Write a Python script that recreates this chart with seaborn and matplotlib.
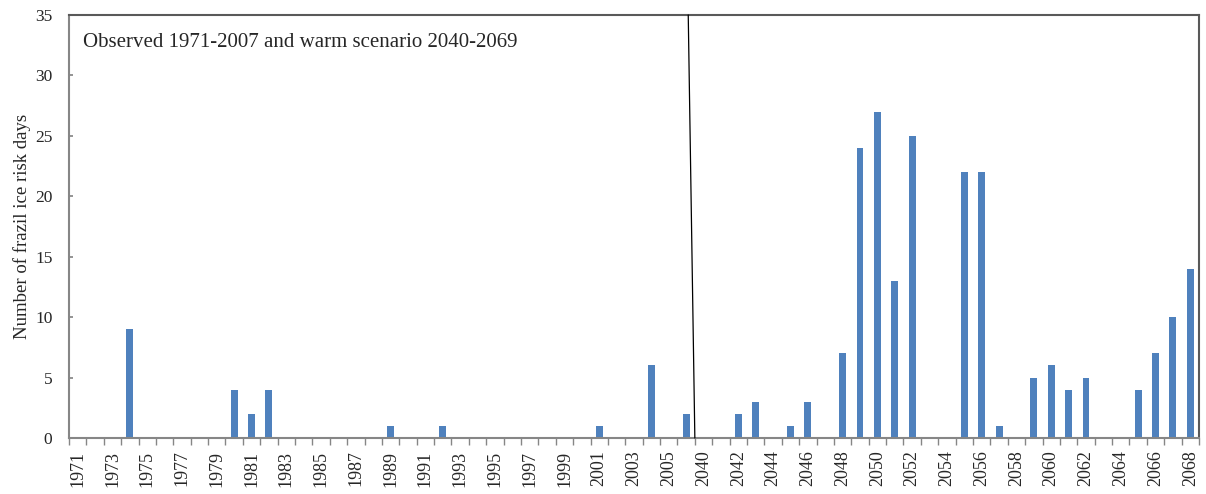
import numpy as np
import pandas as pd
import matplotlib
matplotlib.use("Agg")
import matplotlib.pyplot as plt
import seaborn as sns

# ---- data ----
obs_years = [str(y) for y in range(1971, 2007)]
warm_years = [str(y) for y in range(2040, 2069)]
obs_values = [0, 0, 0, 9, 0, 0, 0, 0, 0, 4,
              2, 4, 0, 0, 0, 0, 0, 0, 1, 0,
              0, 1, 0, 0, 0, 0, 0, 0, 0, 0,
              1, 0, 0, 6, 0, 2]
warm_values = [0, 0, 2, 3, 0, 1, 3, 0, 7, 24,
               27, 13, 25, 0, 0, 22, 22, 1, 0, 5,
               6, 4, 5, 0, 0, 4, 7, 10, 14]
title_text = "Observed 1971-2007 and warm scenario 2040-2069"
y_label = "Number of frazil ice risk days"

categories = obs_years + warm_years
values = obs_values + warm_values
df = pd.DataFrame({"year": categories, "days": values})

sns.set_theme(style="white")
plt.rcParams["font.family"] = ["Liberation Serif", "DejaVu Serif"]

fig = plt.figure(figsize=(12.06, 4.94), dpi=100)
ax = fig.add_axes([69 / 1206, 1 - 438 / 494, (1199 - 69) / 1206, (438 - 15) / 494])

sns.barplot(data=df, x="year", y="days", order=categories, color="#4F81BD",
            width=0.4, saturation=1, ax=ax, errorbar=None, linewidth=0)

n = len(categories)
ax.set_xlim(-0.5, n - 0.5)
ax.set_ylim(0, 35)
ax.set_yticks(range(0, 36, 5))
ax.tick_params(axis="y", direction="in", length=3, color="#868686",
               labelsize=12.5, pad=12, left=True)

ax.set_xticks(range(n))
ax.set_xticklabels([c if i % 2 == 0 else "" for i, c in enumerate(categories)],
                   rotation=90, fontsize=13)
ax.tick_params(axis="x", which="major", length=0, pad=9)
ax.set_xticks(np.arange(-0.5, n, 1.0), minor=True)
ax.tick_params(axis="x", which="minor", direction="out", length=5,
               color="#868686", bottom=True)

ax.set_xlabel("")
ax.set_ylabel(y_label, fontsize=13.5, labelpad=3)

for s in ["left", "bottom"]:
    ax.spines[s].set_color("#868686")
    ax.spines[s].set_linewidth(1.5)
for s in ["top", "right"]:
    ax.spines[s].set_color("#595959")
    ax.spines[s].set_linewidth(1.5)
    ax.spines[s].set_visible(True)

# separator line between observed and scenario periods
n_obs = len(obs_years)
ax.plot([n_obs - 0.88, n_obs - 0.5], [35, 0], color="black", lw=0.9,
        clip_on=False, zorder=5)

ax.text(0.012, 0.935, title_text, transform=ax.transAxes, fontsize=15,
        va="center", ha="left")

fig.savefig("out.png", dpi=100)
